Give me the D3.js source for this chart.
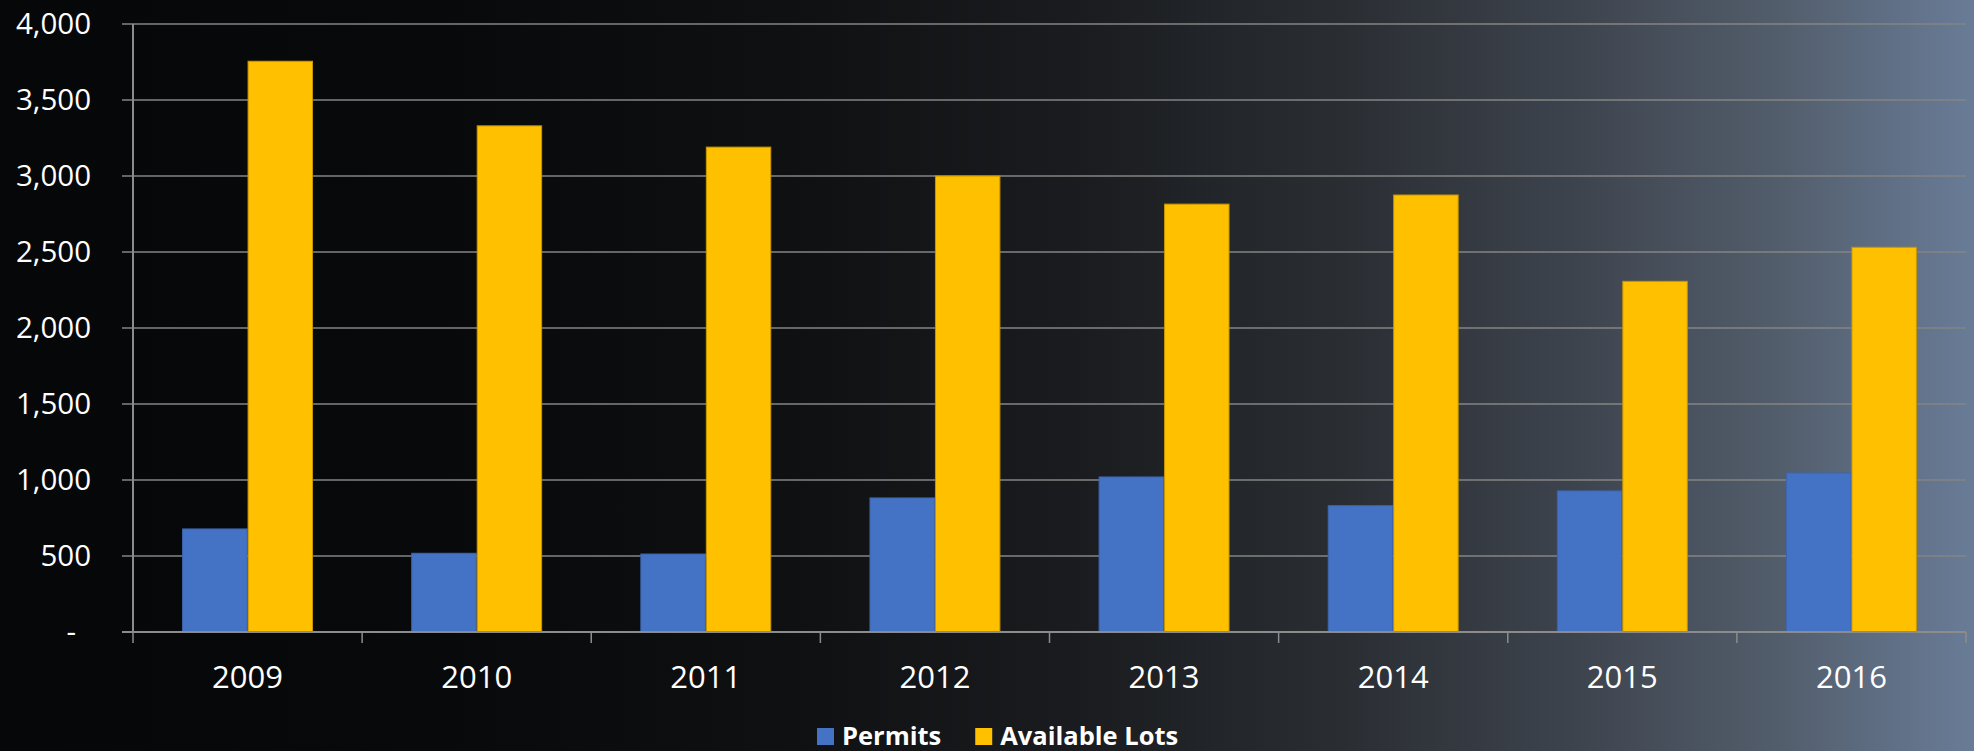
<!DOCTYPE html>
<html>
<head>
<meta charset="utf-8">
<script src="https://cdn.jsdelivr.net/npm/d3@7"></script>
<style>
  html, body { margin: 0; padding: 0; background: #07080a; }
  svg { display: block; }
  text { font-family: "Open Sans", "Liberation Sans", sans-serif; }
</style>
</head>
<body>
<svg id="chart" width="1974" height="751"></svg>
<script>
// Yearly permits issued vs. vacant developed lots available
const years = ["2009", "2010", "2011", "2012", "2013", "2014", "2015", "2016"];
const permits = [678, 518, 513, 882, 1020, 831, 928, 1046];
const availableLots = [3755, 3330, 3190, 3000, 2815, 2875, 2307, 2531];
const seriesNames = ["Permits", "Available Lots"];
const seriesColors = ["#4472C4", "#FFC000"];
const seriesStrokes = ["#3d66b0", "#c79600"];
const yTicks = [0, 500, 1000, 1500, 2000, 2500, 3000, 3500, 4000];

const W = 1974, H = 751;
const margin = { left: 133, right: 8, top: 24, bottom: 119 };
const svg = d3.select("#chart");

// Background: dark on the left easing into slate blue on the right
const defs = svg.append("defs");
const grad = defs.append("linearGradient").attr("id", "bg").attr("x1", "0%").attr("x2", "100%").attr("y1", "0%").attr("y2", "0%");
[[0, "#060708"], [0.22, "#08090b"], [0.4, "#0e1012"], [0.55, "#1a1c1f"], [0.68, "#2a2e33"], [0.8, "#3e444e"], [0.9, "#525d6b"], [1, "#697c97"]]
  .forEach(([o, c]) => grad.append("stop").attr("offset", o).attr("stop-color", c));
svg.append("rect").attr("width", W).attr("height", H).attr("fill", "url(#bg)");

const x0 = d3.scaleBand().domain(years).range([margin.left, W - margin.right]).paddingInner(0).paddingOuter(0);
// Excel-style 150% gap width: two bars occupy 2/3.5 of each band
const groupW = x0.bandwidth() * 2 / 3.5;
const x1 = d3.scaleBand().domain(seriesNames).range([0, groupW]);
const y = d3.scaleLinear().domain([0, 4000]).range([H - margin.bottom, margin.top]);

// Horizontal gridlines
svg.append("g").selectAll("line").data(yTicks.slice(1)).join("line")
  .attr("x1", margin.left - 11).attr("x2", W - margin.right)
  .attr("y1", d => y(d)).attr("y2", d => y(d))
  .attr("stroke", "#858585").attr("stroke-width", 1.4);

// Y axis line and tick labels
svg.append("line").attr("x1", margin.left).attr("x2", margin.left)
  .attr("y1", y(4000)).attr("y2", y(0)).attr("stroke", "#8c8c8c").attr("stroke-width", 2);
svg.append("line").attr("x1", margin.left - 11).attr("x2", margin.left)
  .attr("y1", y(0)).attr("y2", y(0)).attr("stroke", "#8c8c8c").attr("stroke-width", 2);

const fmt = d3.format(",");
svg.append("g").selectAll("text").data(yTicks).join("text")
  .attr("x", d => d === 0 ? 76 : 91)
  .attr("y", d => y(d) + 10)
  .attr("text-anchor", "end")
  .attr("fill", "#ffffff")
  .attr("font-size", 29.5)
  .text(d => d === 0 ? "-" : fmt(d));

// Bars
const data = years.map((yr, i) => ({ year: yr, values: [permits[i], availableLots[i]] }));
const groups = svg.append("g").selectAll("g").data(data).join("g")
  .attr("transform", d => `translate(${x0(d.year) + (x0.bandwidth() - groupW) / 2},0)`);
groups.selectAll("rect").data(d => d.values.map((v, k) => ({ name: seriesNames[k], v, k }))).join("rect")
  .attr("x", d => x1(d.name) + 0.5)
  .attr("width", x1.bandwidth() - 1)
  .attr("y", d => y(d.v))
  .attr("height", d => y(0) - y(d.v))
  .attr("fill", d => seriesColors[d.k])
  .attr("stroke", d => seriesStrokes[d.k])
  .attr("stroke-width", 1);

// X axis line, category ticks and labels
svg.append("line").attr("x1", margin.left).attr("x2", W - margin.right)
  .attr("y1", y(0)).attr("y2", y(0)).attr("stroke", "#8c8c8c").attr("stroke-width", 2);
const boundaries = years.map(yr => x0(yr)).concat([x0.range()[1]]);
svg.append("g").selectAll("line").data(boundaries).join("line")
  .attr("x1", d => d).attr("x2", d => d)
  .attr("y1", y(0)).attr("y2", y(0) + 11)
  .attr("stroke", "#8c8c8c").attr("stroke-width", 1.5);
svg.append("g").selectAll("text").data(years).join("text")
  .attr("x", d => x0(d) + x0.bandwidth() / 2)
  .attr("y", 688)
  .attr("text-anchor", "middle")
  .attr("fill", "#ffffff")
  .attr("font-size", 31)
  .text(d => d);

// Legend
const legend = svg.append("g").attr("transform", "translate(817,745)");
let cx = 0;
seriesNames.forEach((name, k) => {
  const g = legend.append("g").attr("transform", `translate(${cx},0)`);
  g.append("rect").attr("x", 0).attr("y", -17).attr("width", 17).attr("height", 17).attr("fill", seriesColors[k]);
  const t = g.append("text").attr("x", 25).attr("y", 0).attr("fill", "#ffffff")
    .attr("font-size", 25.5).attr("font-weight", "bold").text(name);
  cx += 25 + t.node().getComputedTextLength() + 34;
});
</script>
</body>
</html>
